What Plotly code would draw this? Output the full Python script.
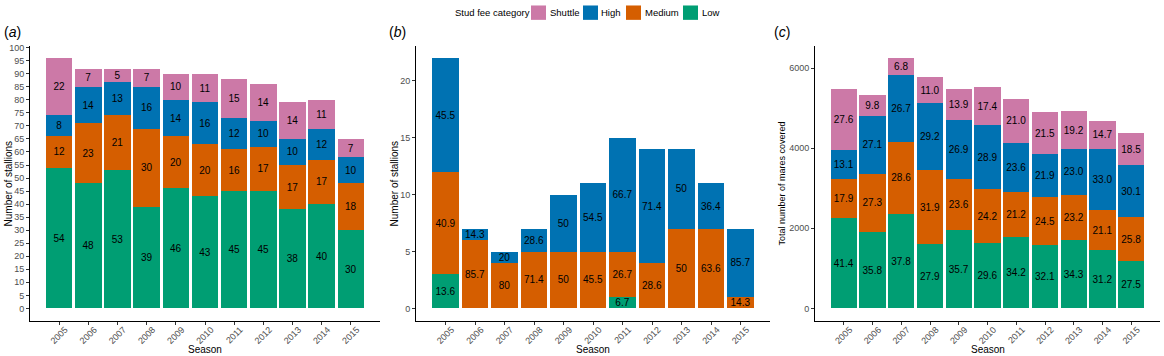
import plotly.graph_objects as go

seasons = [str(y) for y in range(2005, 2016)]
cat_order = ["Low", "Medium", "High", "Shuttle"]
legend_order = ["Shuttle", "High", "Medium", "Low"]
colors = {"Shuttle": "#CC79A7", "High": "#0072B2", "Medium": "#D55E00", "Low": "#009E73"}

# (a) number of stallions
a_low = [54, 48, 53, 39, 46, 43, 45, 45, 38, 40, 30]
a_medium = [12, 23, 21, 30, 20, 20, 16, 17, 17, 17, 18]
a_high = [8, 14, 13, 16, 14, 16, 12, 10, 10, 12, 10]
a_shuttle = [22, 7, 5, 7, 10, 11, 15, 14, 14, 11, 7]

# (b) number of stallions (labels are % within season)
b_low = [3, 0, 0, 0, 0, 0, 1, 0, 0, 0, 0]
b_medium = [9, 6, 4, 5, 5, 5, 4, 4, 7, 7, 1]
b_high = [10, 1, 1, 2, 5, 6, 10, 10, 7, 4, 6]
b_shuttle = [0] * 11

# (c) total mares covered and % shares
c_total = [5470, 5330, 6250, 5770, 5470, 5530, 5235, 4900, 4930, 4680, 4370]
c_low_pct = [41.4, 35.8, 37.8, 27.9, 35.7, 29.6, 34.2, 32.1, 34.3, 31.2, 27.5]
c_medium_pct = [17.9, 27.3, 28.6, 31.9, 23.6, 24.2, 21.2, 24.5, 23.2, 21.1, 25.8]
c_high_pct = [13.1, 27.1, 26.7, 29.2, 26.9, 28.9, 23.6, 21.9, 23.0, 33.0, 30.1]
c_shuttle_pct = [27.6, 9.8, 6.8, 11.0, 13.9, 17.4, 21.0, 21.5, 19.2, 14.7, 18.5]

FONT = "Liberation Sans, Arial, sans-serif"

fig = go.Figure()

def fmt_pct(p):
    s = f"{p:.1f}"
    if s.endswith(".0"):
        s = s[:-2]
    return s

def add_bar(name, x, y, text, xa, ya):
    fig.add_trace(go.Bar(
        name=name, x=x, y=y, text=text,
        xaxis=xa, yaxis=ya,
        marker=dict(color=colors[name], line=dict(width=0)),
        textposition="inside", insidetextanchor="middle", textangle=0,
        constraintext="none",
        textfont=dict(color="black", size=10, family=FONT),
        showlegend=False, hoverinfo="skip",
    ))

# panel a
a_data = {"Low": a_low, "Medium": a_medium, "High": a_high, "Shuttle": a_shuttle}
for c in cat_order:
    add_bar(c, seasons, a_data[c], [str(v) for v in a_data[c]], "x", "y")

# panel b
b_data = {"Low": b_low, "Medium": b_medium, "High": b_high, "Shuttle": b_shuttle}
b_tot = [sum(t) for t in zip(b_low, b_medium, b_high, b_shuttle)]
for c in cat_order:
    vals = b_data[c]
    ys = [v if v > 0 else None for v in vals]
    txt = [fmt_pct(100 * v / t) if v > 0 else "" for v, t in zip(vals, b_tot)]
    add_bar(c, seasons, ys, txt, "x2", "y2")

# panel c
c_data = {"Low": c_low_pct, "Medium": c_medium_pct, "High": c_high_pct, "Shuttle": c_shuttle_pct}
c_sum = [sum(t) for t in zip(c_low_pct, c_medium_pct, c_high_pct, c_shuttle_pct)]
for c in cat_order:
    pcts = c_data[c]
    ys = [tot * p / s for tot, p, s in zip(c_total, pcts, c_sum)]
    txt = [f"{p:.1f}" for p in pcts]
    add_bar(c, seasons, ys, txt, "x3", "y3")

W, H = 1164, 356
def px_x(p):
    return p / W
def px_y(p):
    return (H - p) / H

ydom = [px_y(320.6), px_y(43)]
xdoms = [[px_x(30), px_x(380)], [px_x(416), px_x(770)], [px_x(815), px_x(1160)]]

tickfont = dict(size=9, color="#4D4D4D", family=FONT)
common_x = dict(type="category", range=[-1, 11], showline=True, linecolor="black", linewidth=1,
                ticks="outside", ticklen=3, tickcolor="#333333", tickangle=-45,
                ticklabelstandoff=-4, ticklabelshift=6,
                tickfont=tickfont, showgrid=False, zeroline=False, fixedrange=True)
common_y = dict(showline=True, linecolor="black", linewidth=1, ticks="outside", ticklen=3,
                tickcolor="#333333", tickfont=tickfont, showgrid=False, zeroline=False, fixedrange=True)

a_max = max(sum(t) for t in zip(a_low, a_medium, a_high, a_shuttle))
b_max = max(b_tot)
c_max = max(c_total)

fig.update_layout(
    width=W, height=H,
    margin=dict(l=0, r=0, t=0, b=0),
    barmode="stack", bargap=0.09,
    plot_bgcolor="white", paper_bgcolor="white",
    font=dict(family=FONT, size=10, color="black"),
    uniformtext=dict(minsize=10, mode="show"),
    xaxis=dict(domain=xdoms[0], anchor="y", **common_x),
    xaxis2=dict(domain=xdoms[1], anchor="y2", **common_x),
    xaxis3=dict(domain=xdoms[2], anchor="y3", **common_x),
    yaxis=dict(domain=ydom, anchor="x", range=[-0.05 * a_max, 1.05 * a_max],
               tickvals=list(range(0, 101, 5)), **common_y),
    yaxis2=dict(domain=ydom, anchor="x2", range=[-0.05 * b_max, 1.05 * b_max],
                tickvals=[0, 5, 10, 15, 20], **common_y),
    yaxis3=dict(domain=ydom, anchor="x3", range=[-0.05 * c_max, 1.05 * c_max],
                tickvals=[0, 2000, 4000, 6000], **common_y),
    showlegend=False,
)

annots = []
shapes = []
for lab, xp in [("a", 2), ("b", 387), ("c", 772)]:
    annots.append(dict(text=f"(<i>{lab}</i>)", x=px_x(xp), y=px_y(29), xref="paper", yref="paper",
                       xanchor="left", yanchor="middle", showarrow=False,
                       font=dict(size=14, color="black", family=FONT)))
for xc in [205, 593, 988]:
    annots.append(dict(text="Season", x=px_x(xc), y=px_y(349), xref="paper", yref="paper",
                       xanchor="center", yanchor="middle", showarrow=False,
                       font=dict(size=10, color="black", family=FONT)))
for txt, xc, fs in [("Number of stallions", 8, 10), ("Number of stallions", 394, 10),
                    ("Total number of mares covered", 782, 9)]:
    annots.append(dict(text=txt, x=px_x(xc), y=px_y(182), xref="paper", yref="paper",
                       xanchor="center", yanchor="middle", textangle=-90, showarrow=False,
                       font=dict(size=fs, color="black", family=FONT)))

# custom legend (layout only)
annots.append(dict(text="Stud fee category", x=px_x(453), y=px_y(10), xref="paper", yref="paper",
                   xanchor="left", yanchor="middle", showarrow=False,
                   font=dict(size=9.5, color="black", family=FONT)))
legend_swatch_x = {"Shuttle": 531, "High": 583, "Medium": 626, "Low": 683}
for name in legend_order:
    sx = legend_swatch_x[name]
    shapes.append(dict(type="rect", xref="paper", yref="paper",
                       x0=px_x(sx), x1=px_x(sx + 15), y0=px_y(17), y1=px_y(2.5),
                       fillcolor=colors[name], line=dict(width=0)))
    annots.append(dict(text=name, x=px_x(sx + 16.5), y=px_y(10), xref="paper", yref="paper",
                       xanchor="left", yanchor="middle", showarrow=False,
                       font=dict(size=9.5, color="black", family=FONT)))

fig.update_layout(annotations=annots, shapes=shapes)

fig.write_html("out.html", config={"displayModeBar": False},
               post_script="document.body.style.margin='0';document.body.style.overflow='hidden';")
